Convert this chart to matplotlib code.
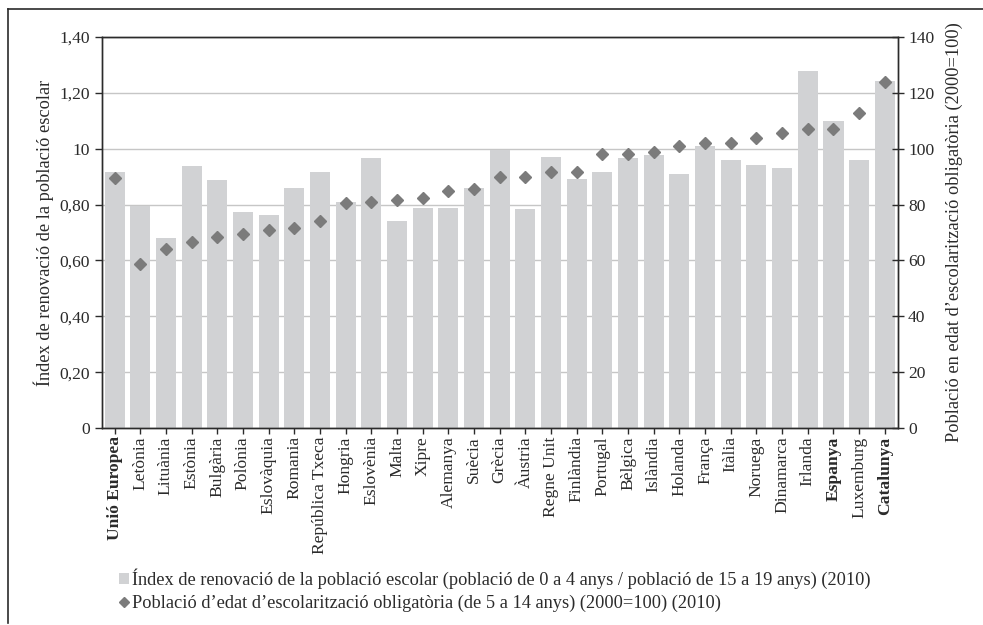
import matplotlib.pyplot as plt
from matplotlib.lines import Line2D
from matplotlib.patches import Patch
import numpy as np

plt.rcParams['font.family'] = ['Liberation Serif', 'DejaVu Serif']

countries = ["Unió Europea", "Letònia", "Lituània", "Estònia", "Bulgària", "Polònia",
             "Eslovàquia", "Romania", "República Txeca", "Hongria", "Eslovènia", "Malta",
             "Xipre", "Alemanya", "Suècia", "Grècia", "Àustria", "Regne Unit", "Finlàndia",
             "Portugal", "Bèlgica", "Islàndia", "Holanda", "França", "Itàlia", "Noruega",
             "Dinamarca", "Irlanda", "Espanya", "Luxemburg", "Catalunya"]
bold_labels = ["Unió Europea", "Espanya", "Catalunya"]

# index of school population renewal (bars, left axis)
renewal_index = [0.917, 0.795, 0.680, 0.939, 0.888, 0.773, 0.763, 0.859, 0.917, 0.809,
                 0.967, 0.741, 0.788, 0.788, 0.859, 0.995, 0.784, 0.970, 0.892, 0.917,
                 0.967, 0.977, 0.911, 1.011, 0.960, 0.943, 0.932, 1.279, 1.099, 0.960,
                 1.244]
# compulsory school age population, 2000=100 (diamonds, right axis)
pop_index = [89.6, 58.6, 64.1, 66.7, 68.3, 69.3, 70.8, 71.7, 74.2, 80.5, 80.9, 81.5,
             82.5, 85.0, 85.6, 89.8, 90.0, 91.5, 91.5, 98.1, 98.1, 98.9, 101.1, 101.9,
             101.9, 103.8, 105.5, 107.1, 107.1, 112.7, 123.8]

left_ticks = [0, 0.2, 0.4, 0.6, 0.8, 1.0, 1.2, 1.4]
left_ticklabels = ["0", "0,20", "0,40", "0,60", "0,80", "10", "1,20", "1,40"]
right_ticks = [0, 20, 40, 60, 80, 100, 120, 140]

bar_color = "#d1d2d4"
dot_color = "#7b7b7b"
dark = "#2b2b2b"
fs = 12.6
fs_lab = 13.2

fig = plt.figure(figsize=(9.83, 6.25), dpi=100)
ax = fig.add_axes([0.1035, 0.3152, 0.8097, 0.6256])
ax2 = ax.twinx()

x = np.arange(len(countries))
ax.bar(x, renewal_index, width=0.78, color=bar_color, zorder=2)
ax2.plot(x, pop_index, linestyle="none", marker="D", markersize=5.8,
         color=dot_color, zorder=3)

ax.set_xlim(-0.5, len(countries) - 0.5)
ax.set_ylim(0, 1.4)
ax2.set_ylim(0, 140)
ax.set_yticks(left_ticks)
ax.set_yticklabels(left_ticklabels)
ax2.set_yticks(right_ticks)
ax.yaxis.grid(True, color="#c6c6c6", linewidth=1.0, zorder=0)
ax.set_axisbelow(True)

ax.set_xticks(x)
ax.set_xticklabels(countries, rotation=90)
for lab in ax.get_xticklabels():
    if lab.get_text() in bold_labels:
        lab.set_fontweight("bold")

for a in (ax, ax2):
    for sp in a.spines.values():
        sp.set_color(dark)
        sp.set_linewidth(1.0)
    a.tick_params(colors=dark, labelsize=fs, width=1.0, length=8, direction="inout")
ax.tick_params(axis="y", length=5, direction="out")
ax.tick_params(axis="x", pad=2)

ax.set_ylabel("Índex de renovació de la població escolar", fontsize=fs_lab, color=dark,
              labelpad=4)
ax2.set_ylabel("Població en edat d’escolarització obligatòria (2000=100)", fontsize=fs_lab,
               color=dark, rotation=90, labelpad=8)

handles = [Patch(facecolor=bar_color, edgecolor="none"),
           Line2D([], [], linestyle="none", marker="D", markersize=5, color=dot_color)]
labels = ["Índex de renovació de la població escolar (població de 0 a 4 anys / població de 15 a 19 anys) (2010)",
          "Població d’edat d’escolarització obligatòria (de 5 a 14 anys) (2000=100) (2010)"]
fig.legend(handles, labels, loc="upper left", bbox_to_anchor=(0.112, 0.1045),
           frameon=False, fontsize=fs_lab, handlelength=0.55, handleheight=0.55,
           handletextpad=0.15, labelspacing=0.3, borderpad=0, labelcolor=dark)

# outer frame (top and left sides)
fig.add_artist(Line2D([0.008, 1.0], [0.985, 0.985], color=dark, linewidth=1.2,
                      transform=fig.transFigure))
fig.add_artist(Line2D([0.008, 0.008], [0.985, 0.003], color=dark, linewidth=1.2,
                      transform=fig.transFigure))

fig.savefig("out.png", dpi=100)
